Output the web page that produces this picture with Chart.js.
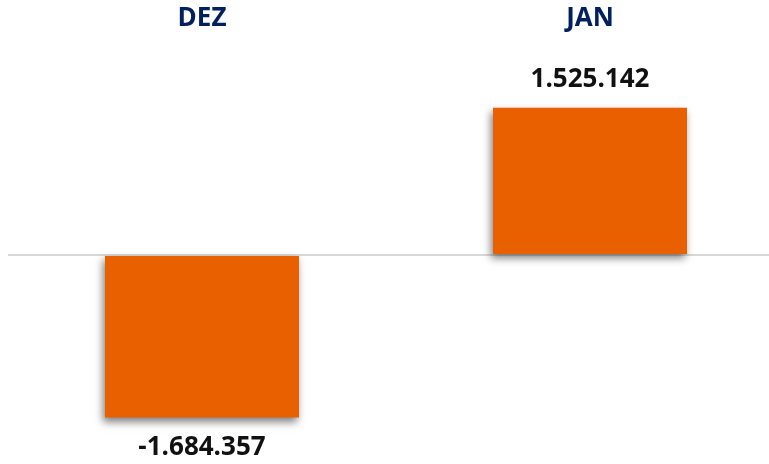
<!DOCTYPE html>
<html>
<head>
<meta charset="utf-8">
<script src="https://cdn.jsdelivr.net/npm/chart.js@4/dist/chart.umd.min.js"></script>
<style>
  html, body { margin: 0; padding: 0; background: #fff; overflow: hidden; }
  #wrap { position: relative; width: 784px; height: 464px; }
</style>
</head>
<body>
<div id="wrap"><canvas id="saldo"></canvas></div>
<script>
// dados do grafico
var meses = ['DEZ', 'JAN'];
var saldos = [-1684357, 1525142];
var limites = [-2000000, 2000000];

function fmt(v) {
    var s = Math.abs(v).toString().replace(/\B(?=(\d{3})+(?!\d))/g, '.');
    return (v < 0 ? '-' : '') + s;
}

// sombra nas barras
var sombra = {
    id: 'sombra',
    beforeDatasetDraw: function (chart) {
        var c = chart.ctx;
        c.save();
        c.shadowColor = 'rgba(0,0,0,0.5)';
        c.shadowBlur = 8;
        c.shadowOffsetX = -2;
        c.shadowOffsetY = 4;
    },
    afterDatasetDraw: function (chart) {
        chart.ctx.restore();
    }
};

// rotulos: mes no topo e valor na ponta da barra
var rotulos = {
    id: 'rotulos',
    afterDatasetsDraw: function (chart) {
        var c = chart.ctx;
        var xs = chart.scales.x;
        var meta = chart.getDatasetMeta(0);
        c.save();
        c.textAlign = 'center';
        c.textBaseline = 'middle';
        meses.forEach(function (m, i) {
            var x = xs.getPixelForValue(i);
            c.fillStyle = '#002060';
            c.font = 'bold 26px "Open Sans"';
            c.fillText(m, x, 19);
            var bar = meta.data[i];
            var v = saldos[i];
            var y = v >= 0 ? bar.y - 28 : bar.y + 30;
            c.fillStyle = '#111';
            c.font = 'bold 26px "Open Sans"';
            c.fillText(fmt(v), x, y);
        });
        c.restore();
    }
};

var ctx = document.getElementById('saldo').getContext('2d');
var chart = new Chart(ctx, {
    type: 'bar',
    data: {
        labels: meses,
        datasets: [{
            data: saldos,
            backgroundColor: '#E86000',
            borderWidth: 0,
            barPercentage: 0.5,
            categoryPercentage: 1
        }]
    },
    options: {
        responsive: true,
        maintainAspectRatio: false,
        animation: false,
        layout: { padding: { left: 8, right: 0, top: 62, bottom: 16 } },
        plugins: {
            legend: { display: false },
            tooltip: { enabled: false }
        },
        scales: {
            x: {
                display: false,
                grid: { display: false }
            },
            y: {
                min: limites[0],
                max: limites[1],
                ticks: { display: false, stepSize: 2000000 },
                border: { display: false },
                grid: {
                    drawTicks: false,
                    lineWidth: 2,
                    color: function (c) {
                        return c.tick && c.tick.value === 0 ? '#d9d9d9' : 'rgba(0,0,0,0)';
                    }
                }
            }
        }
    },
    plugins: [sombra, rotulos]
});
</script>
</body>
</html>
